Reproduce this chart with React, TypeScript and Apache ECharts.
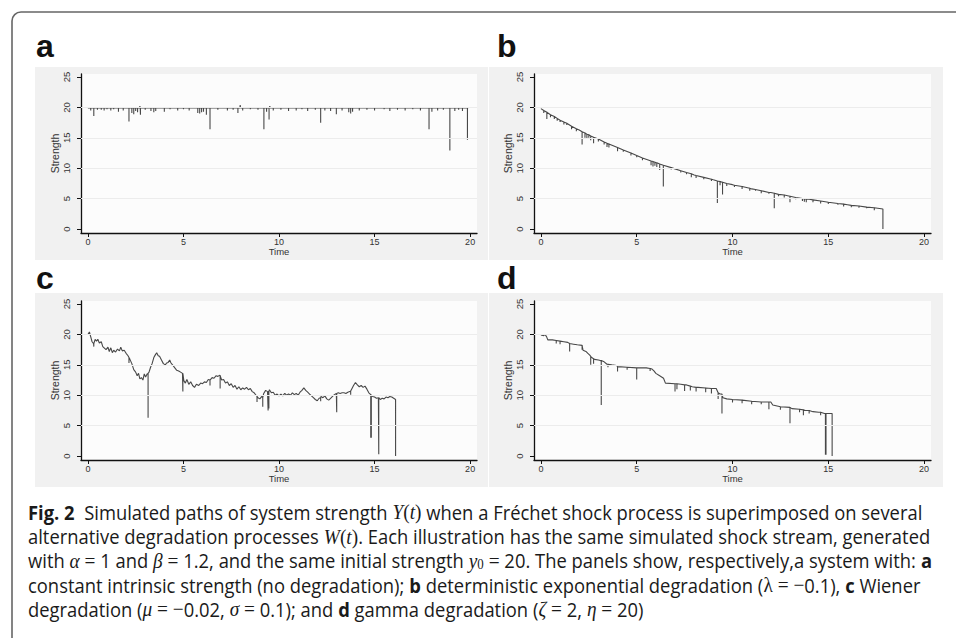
import React, { useEffect, useRef } from "react";
import * as echarts from "echarts";

// ---------- tick labels ----------
const xTicks = [0, 5, 10, 15, 20];
const yTicks = [0, 5, 10, 15, 20, 25];
const gridValues = [5, 10, 15, 20];
const panelLabels = ["a", "b", "c", "d"];

// ---------- panel a : constant intrinsic strength ----------
const aPath: number[][] = [
  [0, 19.9], [2.7, 19.9], [2.72, 20.2], [2.74, 19.9], [7.95, 19.9], [7.97, 20.4], [7.99, 19.9],
  [9.5, 19.9], [9.52, 20.2], [9.54, 19.9], [19.9, 19.9],
];
// [time, top, bottom of shock]
const aSpikes: number[][] = [
  [0.15, 19.9, 19.5], [0.31, 19.9, 18.6], [0.5, 19.9, 19.6], [0.7, 19.9, 19.6], [0.85, 19.9, 19.5],
  [1.0, 19.9, 19.7], [1.2, 19.9, 19.5], [1.35, 19.9, 19.7], [1.6, 19.9, 19.3], [1.85, 19.9, 19.5],
  [2.15, 19.9, 17.7], [2.3, 19.9, 19.1], [2.4, 19.9, 18.9], [2.5, 19.9, 19.4], [2.6, 19.9, 19.2],
  [2.75, 19.9, 18.8], [3.0, 19.9, 19.6], [3.3, 19.9, 19.4], [3.45, 19.9, 19.2], [3.55, 19.9, 19.4],
  [4.0, 19.9, 19.3], [4.3, 19.9, 19.7], [4.7, 19.9, 19.5], [5.0, 19.9, 19.7], [5.3, 19.9, 19.5],
  [5.75, 19.9, 19.1], [5.85, 19.9, 19.0], [5.95, 19.9, 19.2], [6.05, 19.9, 19.3], [6.2, 19.9, 18.8],
  [6.39, 19.9, 16.4], [6.8, 19.9, 19.6], [7.3, 19.9, 19.5], [7.6, 19.9, 19.6], [7.85, 19.9, 19.1],
  [8.1, 19.9, 19.5], [8.5, 19.9, 19.7], [8.9, 19.9, 19.6], [9.21, 19.9, 16.4], [9.35, 19.9, 19.3],
  [9.48, 19.9, 18.0], [9.7, 19.9, 19.5], [10.1, 19.9, 19.6], [10.5, 19.9, 19.4], [10.9, 19.9, 19.5],
  [11.2, 19.9, 19.7], [11.5, 19.9, 19.4], [11.9, 19.9, 19.6], [12.18, 19.9, 17.5], [12.4, 19.9, 19.5],
  [12.7, 19.9, 19.4], [13.0, 19.9, 18.9], [13.3, 19.9, 19.5], [13.65, 19.9, 19.2], [13.75, 19.9, 19.0],
  [13.85, 19.9, 19.3], [14.2, 19.9, 19.5], [14.6, 19.9, 19.6], [15.0, 19.9, 19.5], [15.5, 19.9, 19.7],
  [15.8, 19.9, 19.4], [16.2, 19.9, 19.6], [16.6, 19.9, 19.5], [17.0, 19.9, 19.7], [17.4, 19.9, 19.5],
  [17.85, 19.9, 16.4], [18.0, 19.9, 19.3], [18.3, 19.9, 19.5], [18.6, 19.9, 19.6], [18.94, 19.9, 12.9],
  [19.2, 19.9, 19.4], [19.4, 19.9, 19.6], [19.6, 19.9, 19.4], [19.86, 19.9, 14.7],
];

// ---------- panel b : deterministic exponential degradation ----------
const bPath: number[][] = [
  [0, 19.8], [1, 17.9], [2, 16.3], [3, 14.8], [4, 13.4], [5, 12.1], [6, 10.9], [7, 9.9], [8, 8.9],
  [9, 8.1], [10, 7.3], [11, 6.6], [12, 6.0], [13, 5.4], [14, 4.9], [15, 4.4], [16, 4.0], [17, 3.6],
  [17.85, 3.3], [17.85, 0],
];
const bSpikes: number[][] = [
  [0.15, 19.5, 19.1], [0.31, 19.2, 18.1], [0.5, 18.8, 18.4], [0.7, 18.5, 18.1], [0.85, 18.2, 17.8],
  [1.0, 17.9, 17.6], [1.2, 17.6, 17.2], [1.35, 17.4, 17.1], [1.6, 16.9, 16.4], [1.85, 16.5, 16.1],
  [2.15, 16.0, 13.9], [2.3, 15.8, 15.0], [2.4, 15.6, 14.8], [2.5, 15.5, 15.0], [2.6, 15.3, 14.6],
  [2.75, 15.1, 14.1], [3.0, 14.8, 14.4], [3.3, 14.3, 13.9], [3.45, 14.1, 13.5], [3.55, 14.0, 13.4],
  [4.0, 13.4, 12.8], [4.3, 13.0, 12.7], [4.7, 12.5, 12.1], [5.0, 12.1, 11.8], [5.3, 11.7, 11.3],
  [5.75, 11.2, 10.5], [5.85, 11.1, 10.3], [5.95, 11.0, 10.4], [6.05, 10.9, 10.2], [6.2, 10.7, 9.7],
  [6.39, 10.5, 7.0], [6.8, 10.1, 9.8], [7.3, 9.6, 9.3], [7.6, 9.3, 9.0], [7.85, 9.1, 8.5],
  [8.1, 8.8, 8.4], [8.5, 8.5, 8.2], [8.9, 8.2, 7.9], [9.21, 7.9, 4.3], [9.35, 7.8, 7.2],
  [9.48, 7.7, 5.7], [9.7, 7.5, 7.1], [10.1, 7.2, 6.9], [10.5, 7.0, 6.6], [10.9, 6.7, 6.3],
  [11.2, 6.5, 6.3], [11.5, 6.3, 5.9], [11.9, 6.0, 5.8], [12.18, 5.9, 3.4], [12.4, 5.7, 5.4],
  [12.7, 5.6, 5.2], [13.0, 5.4, 4.4], [13.3, 5.2, 4.9], [13.65, 5.0, 4.6], [13.75, 5.0, 4.5],
  [13.85, 4.9, 4.4], [14.2, 4.8, 4.4], [14.6, 4.6, 4.2], [15.0, 4.4, 4.1], [15.5, 4.2, 4.0],
  [15.8, 4.1, 3.7], [16.2, 3.9, 3.6], [16.6, 3.8, 3.5], [17.0, 3.6, 3.4], [17.4, 3.5, 3.1],
];

// ---------- panel c : Wiener degradation ----------
const cPath: number[][] = [
  [0, 20.0], [0.08, 20.4], [0.15, 19.6], [0.22, 18.8], [0.3, 18.5], [0.38, 19.2], [0.45, 18.9], [0.52, 19.2],
  [0.6, 18.6], [0.7, 18.8], [0.78, 18.0], [0.85, 17.8], [0.95, 17.5], [1.05, 17.9], [1.12, 17.2], [1.2, 17.8],
  [1.28, 17.0], [1.35, 17.4], [1.45, 17.1], [1.55, 17.6], [1.65, 17.3], [1.72, 17.9], [1.8, 17.3], [1.9, 17.4],
  [2.0, 16.9], [2.1, 16.5], [2.2, 15.9], [2.3, 15.2], [2.4, 14.2], [2.5, 13.8], [2.58, 13.2], [2.65, 13.6],
  [2.72, 12.7], [2.8, 12.9], [2.88, 12.5], [2.95, 13.5], [3.02, 13.0], [3.1, 13.5], [3.2, 13.8], [3.28, 14.6],
  [3.36, 15.2], [3.45, 16.2], [3.52, 16.6], [3.6, 17.0], [3.68, 16.5], [3.75, 16.4], [3.85, 15.8], [3.95, 15.2],
  [4.05, 15.0], [4.12, 15.3], [4.2, 15.4], [4.28, 15.8], [4.35, 15.3], [4.45, 14.9], [4.55, 14.5], [4.65, 14.1],
  [4.75, 14.0], [4.85, 13.8], [4.95, 13.6], [5.02, 12.4], [5.1, 12.0], [5.18, 12.6], [5.28, 11.8], [5.38, 12.2],
  [5.48, 11.6], [5.58, 11.3], [5.68, 11.8], [5.8, 11.6], [5.9, 12.0], [6.0, 11.9], [6.1, 12.2], [6.2, 12.1],
  [6.3, 12.6], [6.4, 12.4], [6.5, 12.9], [6.6, 12.8], [6.7, 13.2], [6.8, 13.1], [6.9, 13.3], [7.0, 12.5],
  [7.1, 12.6], [7.2, 12.0], [7.3, 12.2], [7.4, 11.6], [7.5, 11.9], [7.6, 11.3], [7.7, 11.6], [7.8, 11.0],
  [7.9, 11.4], [8.0, 10.9], [8.1, 11.2], [8.2, 11.0], [8.3, 11.3], [8.4, 10.9], [8.5, 11.1], [8.6, 10.6],
  [8.7, 10.4], [8.8, 10.0], [8.9, 9.6], [9.0, 9.4], [9.1, 9.8], [9.2, 10.3], [9.3, 10.8], [9.4, 10.6],
  [9.5, 10.9], [9.6, 10.4], [9.7, 10.5], [9.8, 10.0], [9.9, 10.2], [10.0, 9.9], [10.1, 10.2], [10.2, 9.9],
  [10.3, 10.3], [10.4, 10.0], [10.5, 10.2], [10.6, 10.0], [10.7, 10.4], [10.8, 10.1], [10.9, 10.3], [11.0, 10.0],
  [11.1, 10.5], [11.2, 10.8], [11.3, 11.2], [11.4, 10.8], [11.5, 10.5], [11.6, 10.2], [11.7, 9.9], [11.8, 9.6],
  [11.9, 9.3], [12.0, 9.1], [12.1, 9.5], [12.2, 9.8], [12.3, 9.6], [12.4, 9.9], [12.5, 9.4], [12.6, 9.2],
  [12.7, 9.5], [12.8, 9.8], [12.9, 10.1], [13.0, 10.3], [13.1, 10.4], [13.2, 10.3], [13.3, 10.4], [13.4, 10.4],
  [13.5, 10.3], [13.6, 10.5], [13.7, 10.6], [13.8, 11.0], [13.9, 11.6], [14.0, 12.1], [14.1, 11.7], [14.2, 11.4],
  [14.3, 11.6], [14.4, 11.3], [14.5, 11.5], [14.6, 11.0], [14.7, 10.4], [14.8, 10.1], [14.9, 9.8], [15.0, 9.7],
  [15.1, 9.5], [15.2, 9.6], [15.3, 9.3], [15.4, 9.5], [15.5, 9.4], [15.6, 9.7], [15.7, 9.6], [15.8, 9.8],
  [15.9, 9.7], [16.0, 9.5], [16.1, 9.3], [16.1, 0],
];
const cSpikes: number[][] = [
  [0.31, 18.5, 18.0], [2.15, 16.2, 15.3], [3.15, 13.6, 6.3], [4.97, 13.6, 10.6], [6.39, 12.5, 11.6],
  [6.92, 13.2, 11.1], [8.85, 9.8, 8.9], [9.15, 9.6, 8.1], [9.43, 10.6, 7.5], [9.47, 10.6, 7.8],
  [12.18, 9.6, 9.0], [13.02, 10.3, 7.2], [13.75, 10.7, 10.1], [14.8, 10.1, 3.0], [14.83, 10.0, 3.0],
  [15.22, 9.6, 0.3],
];

// ---------- panel d : gamma degradation ----------
const dPath: number[][] = [
  [0, 19.9], [0.15, 19.8], [0.22, 20.0], [0.3, 19.6], [0.36, 19.1], [0.6, 19.1], [0.8, 19.0], [1.0, 18.9],
  [1.2, 18.8], [1.4, 18.7], [1.5, 18.5], [1.7, 18.4], [1.9, 18.3], [2.15, 18.2], [2.2, 17.4], [2.35, 17.2],
  [2.45, 16.9], [2.55, 16.6], [2.65, 16.2], [2.8, 15.9], [3.0, 15.8], [3.1, 15.7], [3.3, 15.5], [3.45, 15.1],
  [3.7, 15.0], [3.95, 14.9], [4.0, 14.7], [4.5, 14.6], [5.0, 14.5], [5.5, 14.5], [5.8, 14.3], [5.9, 14.0],
  [6.0, 13.6], [6.2, 13.2], [6.4, 12.8], [6.5, 12.0], [7.0, 11.9], [7.3, 11.8], [7.6, 11.7], [7.9, 11.4],
  [8.2, 11.3], [8.6, 11.2], [9.15, 11.1], [9.25, 10.4], [9.35, 10.2], [9.5, 9.6], [9.7, 9.4], [10.0, 9.3],
  [10.5, 9.2], [11.0, 9.0], [11.5, 8.9], [12.0, 8.9], [12.1, 8.4], [12.5, 8.1], [13.0, 8.0], [13.1, 7.8],
  [13.5, 7.7], [13.8, 7.5], [14.2, 7.3], [14.5, 7.2], [14.8, 7.0], [15.0, 7.0], [15.2, 7.0], [15.2, 0],
];
const dSpikes: number[][] = [
  [0.8, 19.0, 18.5], [1.0, 18.9, 18.4], [1.5, 18.5, 17.2], [2.15, 18.2, 17.5], [2.6, 16.4, 15.0],
  [2.75, 16.0, 15.2], [3.15, 15.7, 8.4], [3.5, 15.1, 14.6], [4.0, 14.7, 13.9], [4.5, 14.6, 14.2],
  [5.0, 14.5, 12.6], [5.7, 14.4, 14.0], [7.0, 11.9, 10.6], [7.1, 11.9, 11.0], [7.5, 11.7, 10.7],
  [7.8, 11.5, 10.8], [8.1, 11.3, 10.6], [8.6, 11.2, 10.5], [8.9, 11.1, 10.3], [9.25, 10.4, 9.4],
  [9.45, 10.2, 7.0], [10.0, 9.3, 8.8], [10.5, 9.2, 8.7], [11.0, 9.0, 8.5], [11.5, 8.9, 8.5],
  [11.9, 8.9, 7.7], [12.5, 8.1, 7.6], [13.0, 8.0, 5.4], [13.5, 7.7, 7.2], [13.7, 7.6, 6.7],
  [14.0, 7.5, 7.0], [14.6, 7.2, 6.7], [14.85, 7.0, 0.2], [14.88, 7.0, 0.2],
];

const paths = [aPath, bPath, cPath, dPath];
const spikes = [aSpikes, bSpikes, cSpikes, dSpikes];

// ---------- caption ----------
const captionLines: string[] = [
  "{b|Fig. 2}{n|  Simulated paths of system strength }{m|Y}{s|(}{m|t}{s|)}{n| when a Fréchet shock process is superimposed on several}",
  "{n|alternative degradation processes }{m|W}{s|(}{m|t}{s|)}{n|. Each illustration has the same simulated shock stream, generated}",
  "{n|with }{m|α}{s| = }{n|1 and }{m|β}{s| = }{n|1.2, and the same initial strength }{m|y}{sub|0}{s| = }{n|20. The panels show, respectively,a system with: }{b|a}",
  "{n|constant intrinsic strength (no degradation); }{b|b}{n| deterministic exponential degradation (}{s|λ = −}{n|0.1), }{b|c}{n| Wiener}",
  "{n|degradation (}{m|μ}{s| = −}{n|0.02, }{m|σ}{s| = }{n|0.1); and }{b|d}{n| gamma degradation (}{m|ζ}{s| = }{n|2, }{m|η}{s| = }{n|20)}",
];

function buildData(path: number[][], sp: number[][]) {
  const pts: { t: number; v: number; g: number; i: number }[] = [];
  path.forEach((p, i) => pts.push({ t: p[0], v: p[1], g: 0, i }));
  sp.forEach((s, i) => {
    pts.push({ t: s[0], v: s[1], g: 1, i: i * 3 });
    pts.push({ t: s[0], v: s[2], g: 1, i: i * 3 + 1 });
    pts.push({ t: s[0], v: s[1], g: 1, i: i * 3 + 2 });
  });
  pts.sort((p, q) => p.t - q.t || p.g - q.g || p.i - q.i);
  return pts.map((p) => [p.t, p.v]);
}

const GRIDS = [
  { left: 81, top: 74, width: 396, height: 159 },
  { left: 534, top: 74, width: 397, height: 159 },
  { left: 81, top: 301, width: 396, height: 159 },
  { left: 534, top: 301, width: 397, height: 159 },
];
const PANELS = [
  { x: 35, y: 67, w: 453, h: 193, lx: 36, ly: 46 },
  { x: 489, y: 67, w: 454, h: 193, lx: 497, ly: 46 },
  { x: 35, y: 293, w: 453, h: 194, lx: 36, ly: 278 },
  { x: 489, y: 293, w: 454, h: 194, lx: 497, ly: 278 },
];

const TICK_FONT = "'Liberation Sans Narrow', 'Liberation Sans', Arial, sans-serif";

export default function App() {
  const ref = useRef<HTMLDivElement>(null);
  useEffect(() => {
    document.body.style.margin = "0";
    if (!ref.current) return;
    const chart = echarts.init(ref.current, undefined, { renderer: "svg" });

    const xAxis = GRIDS.map((_, i) => ({
      type: "value",
      gridIndex: i,
      min: -0.36,
      max: 20.36,
      axisLine: { show: true, onZero: false, lineStyle: { color: "#111", width: 1.3 } },
      axisTick: { show: true, length: 4, customValues: xTicks, lineStyle: { color: "#111", width: 1 } },
      axisLabel: { customValues: xTicks, fontSize: 9, margin: 4, color: "#333", fontFamily: "'Liberation Sans', Arial, sans-serif" },
      splitLine: { show: false },
      name: "Time",
      nameLocation: "middle",
      nameGap: 11,
      nameTextStyle: { fontSize: 9.5, color: "#333", fontFamily: "'Liberation Sans', Arial, sans-serif" },
    }));
    const yAxis = GRIDS.map((_, i) => ({
      type: "value",
      gridIndex: i,
      min: -0.65,
      max: 25.5,
      axisLine: { show: true, onZero: false, lineStyle: { color: "#111", width: 1.3 } },
      axisTick: { show: true, length: 4, customValues: yTicks, lineStyle: { color: "#111", width: 1 } },
      axisLabel: { customValues: yTicks, rotate: 90, fontSize: 9.5, margin: 10, color: "#333", fontFamily: TICK_FONT },
      splitLine: { show: false },
      name: "Strength",
      nameLocation: "middle",
      nameGap: 21,
      nameTextStyle: { fontSize: 10.5, color: "#333", fontFamily: TICK_FONT },
    }));

    const series: any[] = [];
    GRIDS.forEach((_, i) => {
      series.push({
        type: "line",
        xAxisIndex: i,
        yAxisIndex: i,
        data: [],
        z: 1,
        silent: true,
        markLine: {
          silent: true,
          symbol: "none",
          label: { show: false },
          lineStyle: { color: "#ececec", type: "solid", width: 1 },
          data: gridValues.map((v) => ({ yAxis: v })),
        },
      });
      series.push({
        type: "line",
        xAxisIndex: i,
        yAxisIndex: i,
        data: buildData(paths[i], spikes[i]),
        showSymbol: false,
        symbol: "none",
        z: 3,
        lineStyle: { color: "#484848", width: 1.1 },
      });
    });

    const graphic: any[] = [
      {
        type: "rect",
        z: -20,
        shape: { x: 12, y: 12, width: 980, height: 660, r: 9 },
        style: { fill: "#fff", stroke: "#666", lineWidth: 1.6 },
      },
    ];
    PANELS.forEach((p, i) => {
      graphic.push({
        type: "rect",
        z: -10,
        shape: { x: p.x, y: p.y, width: p.w, height: p.h },
        style: { fill: "#f1f1f1" },
      });
      graphic.push({
        type: "text",
        x: p.lx,
        y: p.ly,
        style: {
          text: panelLabels[i],
          font: "bold 32px 'Liberation Sans', Arial, sans-serif",
          fill: "#111",
          verticalAlign: "middle",
        },
      });
    });
    const capRich = {
      n: { fontFamily: "'Open Sans', sans-serif", fontSize: 20, color: "#1a1a1a" },
      b: { fontFamily: "'Open Sans', sans-serif", fontSize: 20, fontWeight: "bold", color: "#1a1a1a" },
      m: { fontFamily: "'Liberation Serif', serif", fontStyle: "italic", fontSize: 21, color: "#1a1a1a" },
      s: { fontFamily: "'Liberation Serif', serif", fontSize: 21, color: "#1a1a1a" },
      sub: { fontFamily: "'Liberation Serif', serif", fontSize: 14, color: "#1a1a1a", padding: [8, 0, 0, 0] },
    };
    captionLines.forEach((line, k) => {
      graphic.push({
        type: "text",
        x: 28,
        y: 512 + k * 24.3,
        scaleX: 0.92,
        style: {
          text: line,
          rich: capRich,
          verticalAlign: "middle",
          fill: "#1a1a1a",
        },
      });
    });

    chart.setOption({
      animation: false,
      backgroundColor: "#fff",
      grid: GRIDS.map((g) => ({ ...g, show: true, backgroundColor: "#fcfcfc", borderWidth: 0, z: 0 })),
      xAxis,
      yAxis,
      series,
      graphic,
    });
    return () => chart.dispose();
  }, []);
  return <div ref={ref} style={{ width: 956, height: 638 }} />;
}
